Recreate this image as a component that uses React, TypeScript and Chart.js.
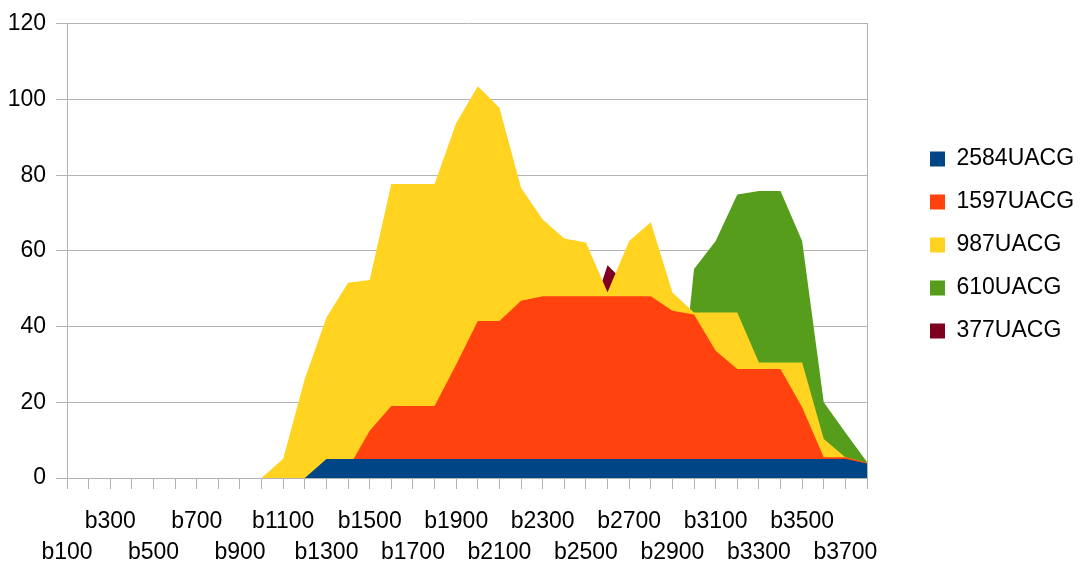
import React, { useEffect, useRef } from 'react';
import { Chart, registerables } from 'chart.js';

Chart.register(...registerables);

const categories = [
  'b100', 'b200', 'b300', 'b400', 'b500', 'b600', 'b700', 'b800', 'b900', 'b1000',
  'b1100', 'b1200', 'b1300', 'b1400', 'b1500', 'b1600', 'b1700', 'b1800', 'b1900', 'b2000',
  'b2100', 'b2200', 'b2300', 'b2400', 'b2500', 'b2600', 'b2700', 'b2800', 'b2900', 'b3000',
  'b3100', 'b3200', 'b3300', 'b3400', 'b3500', 'b3600', 'b3700', 'b3800',
];

const series2584 = [
  0, 0, 0, 0, 0, 0, 0, 0, 0, 0,
  0, 0, 5, 5, 5, 5, 5, 5, 5, 5,
  5, 5, 5, 5, 5, 5, 5, 5, 5, 5,
  5, 5, 5, 5, 5, 5, 5, 3.8,
];

const series1597 = [
  0, 0, 0, 0, 0, 0, 0, 0, 0, 0,
  0, 0, 0, 2.5, 12.5, 19, 19, 19, 30, 41.5,
  41.5, 46.8, 48, 48, 48, 48, 48, 48, 44.2, 43.2,
  33.6, 28.8, 28.8, 28.8, 18.7, 5.5, 5.5, 4,
];

const series987 = [
  0, 0, 0, 0, 0, 0, 0, 0, 0, 0,
  5.1, 26.2, 42.4, 51.6, 52.3, 77.7, 77.7, 77.7, 93.8, 103.5,
  97.8, 76.7, 68.3, 63.3, 62.2, 49.1, 62.6, 67.6, 49, 43.7,
  43.7, 43.7, 30.5, 30.5, 30.5, 10.3, 5.5, 4,
];

const series610 = [
  0, 0, 0, 0, 0, 0, 0, 0, 0, 0,
  0, 0, 0, 0, 0, 0, 0, 0, 0, 0,
  0, 0, 0, 0, 0, 0, 0, 0, 0, 55.2,
  62.6, 74.9, 75.8, 75.8, 62.6, 20, 12, 4.2,
];

const series377 = [
  0, 0, 0, 0, 0, 0, 0, 0, 0, 0,
  0, 0, 0, 0, 0, 0, 0, 0, 0, 0,
  0, 0, 0, 0, 39, 56.2, 50.5, 0, 0, 0,
  0, 0, 0, 0, 0, 0, 0, 0,
];

const seriesNames = ['2584UACG', '1597UACG', '987UACG', '610UACG', '377UACG'];
const seriesColors = ['#004586', '#ff420e', '#ffd320', '#579d1c', '#7e0021'];
const seriesValues = [series2584, series1597, series987, series610, series377];

const yTicks = [0, 20, 40, 60, 80, 100, 120];

const FONT = '"Liberation Sans", Arial, sans-serif';
const GRID = '#b3b3b3';

const legendShift = {
  id: 'legendShift',
  afterLayout(chart: any) {
    const l = chart.legend;
    if (l) {
      l.top -= 6;
      l.bottom -= 6;
    }
  },
};

export default function App() {
  const ref = useRef<HTMLCanvasElement>(null);

  useEffect(() => {
    document.body.style.margin = '0';
    const canvas = ref.current;
    if (!canvas) return;
    const chart = new Chart(canvas, {
      type: 'line',
      data: {
        labels: categories,
        datasets: seriesNames.map((name, i) => ({
          label: name,
          data: seriesValues[i],
          backgroundColor: seriesColors[i],
          borderColor: 'rgba(0,0,0,0)',
          borderWidth: 0,
          fill: 'origin',
          pointRadius: 0,
          pointHoverRadius: 0,
          tension: 0,
        })),
      },
      options: {
        responsive: false,
        animation: false,
        events: [],
        layout: { padding: { top: 22, left: 0, right: 0, bottom: 0 } },
        plugins: {
          tooltip: { enabled: false },
          legend: {
            position: 'right',
            align: 'center',
            fullSize: false,
            maxWidth: 172,
            labels: {
              boxWidth: 15,
              boxHeight: 15,
              padding: 20,
              color: '#000',
              font: { family: FONT, size: 23 },
            },
          },
        },
        scales: {
          x: {
            type: 'category',
            offset: false,
            grid: {
              display: true,
              drawOnChartArea: false,
              drawTicks: true,
              tickLength: 11,
              color: GRID,
              offset: false,
            },
            border: { display: true, color: GRID },
            ticks: {
              autoSkip: false,
              maxRotation: 0,
              minRotation: 0,
              padding: 17,
              color: '#000',
              font: { family: FONT, size: 23, lineHeight: 31 / 23 },
              callback: (_v: any, index: number) => {
                const lab = categories[index];
                if (index % 4 === 0) return ['', lab];
                if (index % 4 === 2) return [lab, ''];
                return '';
              },
            },
            afterFit: (s: any) => {
              s.height = 87;
            },
          },
          y: {
            type: 'linear',
            position: 'left',
            min: yTicks[0],
            max: yTicks[yTicks.length - 1],
            afterBuildTicks: (s: any) => {
              s.ticks = yTicks.map((v) => ({ value: v }));
            },
            grid: { color: GRID, tickLength: 11 },
            border: { display: true, color: GRID },
            ticks: {
              padding: 10,
              color: '#000',
              font: { family: FONT, size: 23 },
            },
            afterFit: (s: any) => {
              s.width = 67;
            },
          },
          y2: {
            type: 'linear',
            position: 'right',
            display: true,
            grid: { display: false },
            ticks: { display: false },
            border: { display: true, color: GRID },
            afterFit: (s: any) => {
              s.width = 43;
            },
          },
        },
      },
      plugins: [legendShift],
    } as any);
    return () => chart.destroy();
  }, []);

  return <canvas ref={ref} width={1082} height={565} style={{ display: 'block' }} />;
}
